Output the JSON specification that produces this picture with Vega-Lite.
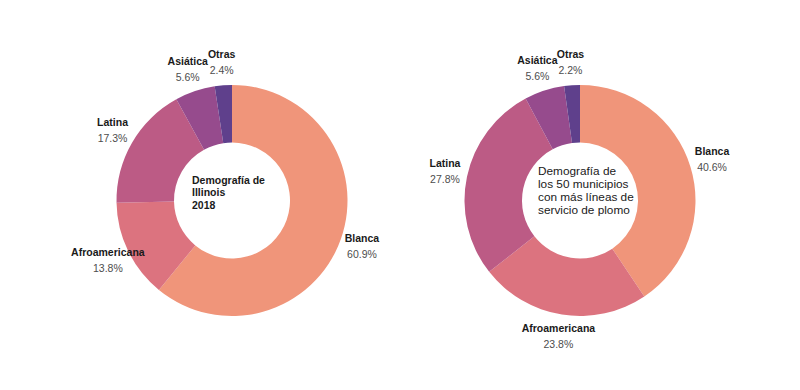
{
  "$schema": "https://vega.github.io/schema/vega-lite/v6.json",
  "padding": {"left": 0, "top": 11, "right": 0, "bottom": 0},
  "background": "white",
  "spacing": 0,
  "bounds": "flush",
  "config": {"view": {"stroke": null}, "font": "Liberation Sans"},
  "datasets": {
    "illinois": [
      {"grupo": "Blanca", "valor": 0.609, "orden": 1},
      {"grupo": "Afroamericana", "valor": 0.138, "orden": 2},
      {"grupo": "Latina", "valor": 0.173, "orden": 3},
      {"grupo": "Asiática", "valor": 0.056, "orden": 4},
      {"grupo": "Otras", "valor": 0.024, "orden": 5}
    ],
    "municipios": [
      {"grupo": "Blanca", "valor": 0.406, "orden": 1},
      {"grupo": "Afroamericana", "valor": 0.238, "orden": 2},
      {"grupo": "Latina", "valor": 0.278, "orden": 3},
      {"grupo": "Asiática", "valor": 0.056, "orden": 4},
      {"grupo": "Otras", "valor": 0.022, "orden": 5}
    ]
  },
  "hconcat": [
    {
      "width": 464,
      "height": 379,
      "data": {"name": "illinois"},
      "layer": [
        {
          "mark": {"type": "arc", "innerRadius": 58, "outerRadius": 115.5},
          "encoding": {
            "theta": {"field": "valor", "type": "quantitative", "stack": true},
            "order": {"field": "orden", "type": "quantitative"},
            "color": {
              "field": "grupo", "type": "nominal", "legend": null,
              "scale": {"domain": ["Blanca", "Afroamericana", "Latina", "Asiática", "Otras"],
                        "range": ["#F0957A", "#DC737F", "#BC5B85", "#964B8D", "#5F408C"]}
            }
          }
        },
        {
          "mark": {"type": "text", "radius": 138, "dy": -8, "fontWeight": "bold", "fontSize": 10.5, "color": "#1a1a1a"},
          "encoding": {
            "theta": {"field": "valor", "type": "quantitative", "stack": true},
            "order": {"field": "orden", "type": "quantitative"},
            "text": {"field": "grupo", "type": "nominal"}
          }
        },
        {
          "mark": {"type": "text", "radius": 138, "dy": 8, "fontSize": 10.5, "color": "#4d4d4d"},
          "encoding": {
            "theta": {"field": "valor", "type": "quantitative", "stack": true},
            "order": {"field": "orden", "type": "quantitative"},
            "text": {"field": "valor", "type": "quantitative", "format": ".1%"}
          }
        },
        {
          "data": {"values": [{"titulo": "Illinois"}]},
          "mark": {"type": "text", "text": ["Demografía de", "Illinois", "2018"], "align": "left", "baseline": "middle", "dx": -40, "dy": -20, "fontWeight": "bold", "fontSize": 10.5, "lineHeight": 12.5, "color": "#1a1a1a"},
          "encoding": {}
        }
      ]
    },
    {
      "width": 232,
      "height": 379,
      "data": {"name": "municipios"},
      "layer": [
        {
          "mark": {"type": "arc", "innerRadius": 58, "outerRadius": 115.5},
          "encoding": {
            "theta": {"field": "valor", "type": "quantitative", "stack": true},
            "order": {"field": "orden", "type": "quantitative"},
            "color": {
              "field": "grupo", "type": "nominal", "legend": null,
              "scale": {"domain": ["Blanca", "Afroamericana", "Latina", "Asiática", "Otras"],
                        "range": ["#F0957A", "#DC737F", "#BC5B85", "#964B8D", "#5F408C"]}
            }
          }
        },
        {
          "mark": {"type": "text", "radius": 138, "dy": -8, "fontWeight": "bold", "fontSize": 10.5, "color": "#1a1a1a"},
          "encoding": {
            "theta": {"field": "valor", "type": "quantitative", "stack": true},
            "order": {"field": "orden", "type": "quantitative"},
            "text": {"field": "grupo", "type": "nominal"}
          }
        },
        {
          "mark": {"type": "text", "radius": 138, "dy": 8, "fontSize": 10.5, "color": "#4d4d4d"},
          "encoding": {
            "theta": {"field": "valor", "type": "quantitative", "stack": true},
            "order": {"field": "orden", "type": "quantitative"},
            "text": {"field": "valor", "type": "quantitative", "format": ".1%"}
          }
        },
        {
          "data": {"values": [{"titulo": "municipios"}]},
          "mark": {"type": "text", "text": ["Demografía de", "los 50 municipios", "con más líneas de", "servicio de plomo"], "align": "left", "baseline": "middle", "dx": -42, "dy": -30, "fontSize": 11.8, "lineHeight": 13, "color": "#1a1a1a"},
          "encoding": {}
        }
      ]
    }
  ]
}
